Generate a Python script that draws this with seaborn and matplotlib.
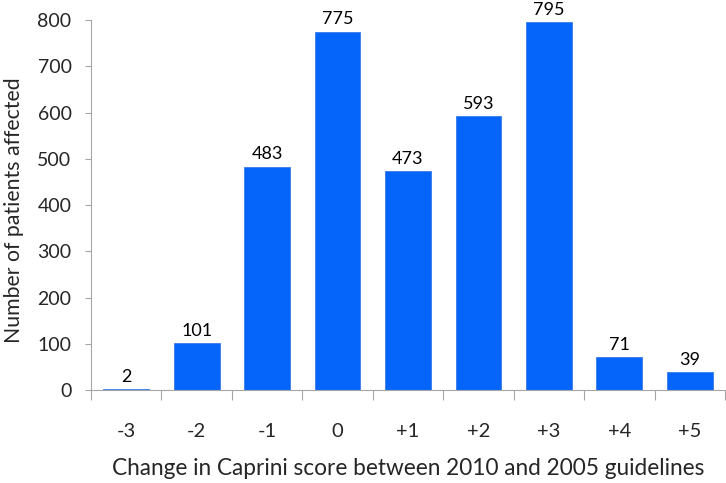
import matplotlib
matplotlib.use("Agg")
import matplotlib.pyplot as plt
import seaborn as sns
import pandas as pd

# Caprini score change vs number of patients
score_change = ["-3", "-2", "-1", "0", "+1", "+2", "+3", "+4", "+5"]
patients = [2, 101, 483, 775, 473, 593, 795, 71, 39]

sns.set_style("white")
plt.rcParams["font.family"] = ["Lato", "DejaVu Sans"]

df = pd.DataFrame({"change": score_change, "patients": patients})

fig = plt.figure(figsize=(7.26, 4.83), dpi=100)
ax = fig.add_axes([0.1253, 0.1925, 0.8733, 0.7661])

sns.barplot(
    data=df,
    x="change",
    y="patients",
    order=score_change,
    color="#0564FA",
    saturation=1,
    width=0.65,
    edgecolor="#3a7be8",
    linewidth=0.6,
    ax=ax,
)

ax.bar_label(ax.containers[0], fontsize=13, padding=3, color="black")

ax.set_ylim(0, 800)
ax.set_xlim(-0.5, len(score_change) - 0.5)
ax.set_yticks(range(0, 801, 100))

# Excel-style ticks between categories
ax.set_xticks([i - 0.5 for i in range(len(score_change) + 1)], minor=True)
ax.tick_params(axis="x", which="major", length=0, pad=24, labelsize=14.5)
ax.tick_params(axis="x", which="minor", length=7, width=0.8, color="#a6a6a6", direction="out", bottom=True)
ax.tick_params(axis="y", length=4, width=0.8, color="#a6a6a6", direction="out", left=True, pad=10, labelsize=14)

for side in ["top", "right"]:
    ax.spines[side].set_visible(False)
for side in ["left", "bottom"]:
    ax.spines[side].set_color("#a6a6a6")
    ax.spines[side].set_linewidth(0.8)

ax.set_xlabel("Change in Caprini score between 2010 and 2005 guidelines", fontsize=16.3, labelpad=13)
ax.set_ylabel("Number of patients affected", fontsize=15.3, labelpad=10)
ax.yaxis.label.set_y(0.486)

fig.savefig("out.png", dpi=100)
